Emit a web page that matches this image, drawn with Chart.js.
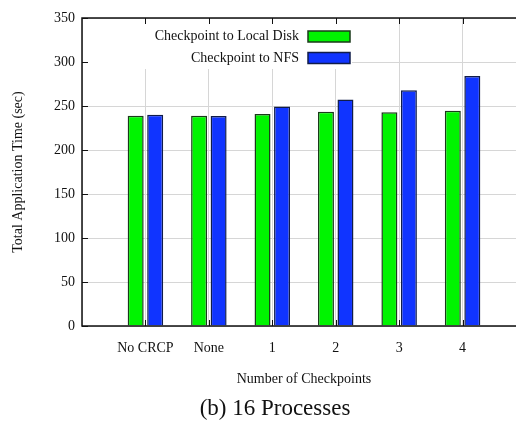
<html>
	<head>
		<script src="https://cdn.jsdelivr.net/npm/chart.js"></script>
		<style>
			html, body {
				margin: 0;
				padding: 0;
				overflow: hidden;
				background: #fff;
			}
			.wrap {
				position: relative;
				width: 516px;
				height: 424px;
				overflow: hidden;
			}
			canvas {
				position: absolute;
				left: 0;
				top: 0;
			}
			.caption {
				position: absolute;
				left: 0;
				width: 550px;
				top: 396px;
				text-align: center;
				font-family: 'Liberation Serif', serif;
				font-size: 23px;
				line-height: 23px;
				color: #111;
			}
		</style>
	</head>
	<body>
		<div class="wrap">
			<canvas id="benchChart" width="540" height="424"></canvas>
			<div class="caption">(b) 16 Processes</div>
		</div>

		<script>
			const categories = ['No CRCP', 'None', '1', '2', '3', '4'];
			const localDisk = [239, 239, 241, 243.5, 243, 244.5];
			const nfs = [240, 238.5, 249.5, 257.5, 268, 284];
			const yTicks = [0, 50, 100, 150, 200, 250, 300, 350];
			const seriesNames = ['Checkpoint to Local Disk', 'Checkpoint to NFS'];
			const seriesColors = ['#00f400', '#1034ff'];
			const seriesBorders = ['#1a3a1a', '#101c4a'];

			// one empty slot on each side so the frame runs past the groups, like gnuplot
			const labels = ['', ...categories, ''];
			const pad = arr => [null, ...arr, null];

			const serif = 'Liberation Serif';

			// white key box, inward ticks and the frame
			const gnuplotFrame = {
				id: 'gnuplotFrame',
				beforeDatasetsDraw(chart) {
					const { ctx, chartArea: a, scales } = chart;
					ctx.save();
					ctx.fillStyle = '#fff';
					ctx.fillRect(88, a.top + 1, 264, 50);

					ctx.strokeStyle = '#111';
					ctx.lineWidth = 1;
					yTicks.forEach(v => {
						const y = Math.round(scales.y.getPixelForValue(v)) + 0.5;
						ctx.beginPath();
						ctx.moveTo(a.left, y);
						ctx.lineTo(a.left + 6, y);
						ctx.stroke();
					});
					categories.forEach((c, i) => {
						const x = Math.round(scales.x.getPixelForValue(i + 1)) + 0.5;
						ctx.beginPath();
						ctx.moveTo(x, a.top);
						ctx.lineTo(x, a.top + 6);
						ctx.moveTo(x, a.bottom);
						ctx.lineTo(x, a.bottom - 6);
						ctx.stroke();
					});

					ctx.font = '14px ' + serif;
					ctx.textAlign = 'right';
					ctx.textBaseline = 'middle';
					seriesNames.forEach((name, i) => {
						const cy = 36.5 + i * 21.5;
						ctx.fillStyle = '#111';
						ctx.fillText(name, 299, cy);
						ctx.fillStyle = seriesColors[i];
						ctx.fillRect(308, cy - 5.5, 42, 11);
						ctx.strokeStyle = seriesBorders[i];
						ctx.lineWidth = 1.5;
						ctx.strokeRect(308, cy - 5.5, 42, 11);
					});
					ctx.restore();
				},
				afterDatasetsDraw(chart) {
					const { ctx, chartArea: a } = chart;
					ctx.save();
					ctx.strokeStyle = '#111';
					ctx.lineWidth = 1.5;
					ctx.beginPath();
					ctx.moveTo(a.right + 10, a.top);
					ctx.lineTo(a.left, a.top);
					ctx.lineTo(a.left, a.bottom);
					ctx.lineTo(a.right + 10, a.bottom);
					ctx.stroke();
					ctx.restore();
				}
			};

			const chart = new Chart(document.getElementById('benchChart'), {
				type: 'bar',
				data: {
					labels: labels,
					datasets: [{
						label: seriesNames[0],
						data: pad(localDisk),
						backgroundColor: seriesColors[0],
						borderColor: seriesBorders[0],
						borderWidth: 1.5
					}, {
						label: seriesNames[1],
						data: pad(nfs),
						backgroundColor: seriesColors[1],
						borderColor: seriesBorders[1],
						borderWidth: 1.5
					}]
				},
				plugins: [gnuplotFrame],
				options: {
					responsive: false,
					animation: false,
					devicePixelRatio: 1,
					categoryPercentage: 0.615,
					barPercentage: 0.82,
					layout: { padding: { top: 18, right: 4, left: 0, bottom: 0 } },
					plugins: {
						legend: { display: false },
						tooltip: { enabled: false }
					},
					scales: {
						x: {
							offset: false,
							afterFit: s => { s.height = 98; },
							grid: { offset: false, color: '#d6d6d6', drawTicks: false },
							border: { display: false },
							ticks: {
								autoSkip: false,
								maxRotation: 0,
								padding: 14,
								color: '#111',
								font: { family: serif, size: 14 }
							},
							title: {
								display: true,
								text: 'Number of Checkpoints',
								color: '#111',
								font: { family: serif, size: 14 },
								padding: { top: 0, bottom: 36 }
							}
						},
						y: {
							min: 0,
							max: 350,
							afterFit: s => { s.width = 82; },
							grid: { color: '#d6d6d6', drawTicks: false },
							border: { display: false },
							ticks: {
								stepSize: 50,
								padding: 7,
								color: '#111',
								font: { family: serif, size: 14 }
							},
							title: {
								display: true,
								text: 'Total Application Time (sec)',
								color: '#111',
								font: { family: serif, size: 14 },
								padding: { top: 10, bottom: 0 }
							}
						}
					}
				}
			});
		</script>
	</body>
</html>
